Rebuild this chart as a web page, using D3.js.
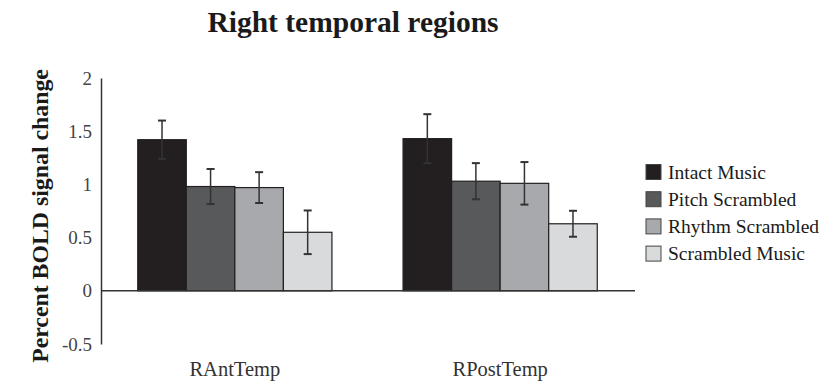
<!DOCTYPE html>
<html><head><meta charset="utf-8">
<script src="https://cdn.jsdelivr.net/npm/d3@7"></script>
<style>body{margin:0;background:#fff}svg{display:block}</style>
</head><body>
<script>
const regions = ["RAntTemp", "RPostTemp"];
const conditions = ["Intact Music", "Pitch Scrambled", "Rhythm Scrambled", "Scrambled Music"];
const intactMusic = [1.42, 1.43];
const pitchScrambled = [0.98, 1.03];
const rhythmScrambled = [0.97, 1.01];
const scrambledMusic = [0.55, 0.63];
const errIntact = [0.18, 0.23];
const errPitch = [0.165, 0.17];
const errRhythm = [0.145, 0.20];
const errScrambled = [0.205, 0.122];
const yTicks = [-0.5, 0, 0.5, 1, 1.5, 2];
const yTickLabels = ["-0.5", "0", "0.5", "1", "1.5", "2"];
const colors = ["#231f20", "#58595b", "#a7a9ac", "#d9dadb"];

const values = [intactMusic, pitchScrambled, rhythmScrambled, scrambledMusic];
const errs = [errIntact, errPitch, errRhythm, errScrambled];

const W = 834, H = 382;
const svg = d3.select("body").append("svg").attr("width", W).attr("height", H);
const serif = "'Liberation Serif','Times New Roman',serif";

const y = d3.scaleLinear().domain([-0.5, 2]).range([344, 78]);
const x0 = d3.scaleBand().domain(regions).range([101, 634]).paddingInner(0.268).paddingOuter(0.1385);
const x1 = d3.scaleBand().domain(conditions).range([0, x0.bandwidth()]).padding(0);

// title
svg.append("text").attr("x", 353).attr("y", 32).attr("text-anchor", "middle")
  .attr("font-family", serif).attr("font-weight", "bold").attr("font-size", 29.5)
  .attr("fill", "#1a1a1a").text("Right temporal regions");

// y label
svg.append("text").attr("transform", "translate(48,216) rotate(-90)")
  .attr("text-anchor", "middle").attr("font-family", serif).attr("font-weight", "bold")
  .attr("font-size", 23.8).attr("fill", "#1a1a1a").text("Percent BOLD signal change");

// y axis
const yAxis = d3.axisLeft(y).tickValues(yTicks).tickFormat((d, i) => yTickLabels[i]).tickSize(0).tickPadding(9);
const gy = svg.append("g").attr("transform", "translate(101,0)").call(yAxis);
gy.select(".domain").attr("stroke", "#333").attr("stroke-width", 1.5);
gy.selectAll("text").attr("font-family", serif).attr("font-size", 19).attr("fill", "#444");

// bars
const g = svg.append("g");
regions.forEach((r, ri) => {
  conditions.forEach((c, ci) => {
    const v = values[ci][ri];
    g.append("rect")
      .attr("x", x0(r) + x1(c)).attr("width", x1.bandwidth())
      .attr("y", y(v)).attr("height", y(0) - y(v))
      .attr("fill", colors[ci]).attr("stroke", "#231f20").attr("stroke-width", 1.2);
  });
});

// zero line
svg.append("line").attr("x1", 101).attr("x2", 635).attr("y1", y(0)).attr("y2", y(0))
  .attr("stroke", "#333").attr("stroke-width", 1.5);

// error bars
regions.forEach((r, ri) => {
  conditions.forEach((c, ci) => {
    const v = values[ci][ri], e = errs[ci][ri];
    const cx = x0(r) + x1(c) + x1.bandwidth() / 2;
    const eb = svg.append("g").attr("stroke", "#333").attr("stroke-width", 1.5);
    eb.append("line").attr("x1", cx).attr("x2", cx).attr("y1", y(v + e)).attr("y2", y(v - e));
    eb.append("line").attr("x1", cx - 4).attr("x2", cx + 4).attr("y1", y(v + e)).attr("y2", y(v + e)).attr("stroke-width", 2);
    eb.append("line").attr("x1", cx - 4).attr("x2", cx + 4).attr("y1", y(v - e)).attr("y2", y(v - e)).attr("stroke-width", 2);
  });
});

// x category labels
regions.forEach(r => {
  svg.append("text").attr("x", x0(r) + x0.bandwidth() / 2).attr("y", 376)
    .attr("text-anchor", "middle").attr("font-family", serif).attr("font-size", 20.5)
    .attr("fill", "#333").text(r);
});

// legend
conditions.forEach((c, i) => {
  const ly = 172 + i * 27.2;
  svg.append("rect").attr("x", 646).attr("y", ly - 7.5).attr("width", 15).attr("height", 15)
    .attr("fill", colors[i]).attr("stroke", "#444").attr("stroke-width", 1);
  svg.append("text").attr("x", 668).attr("y", ly + 6.5).attr("font-family", serif)
    .attr("font-size", 19.5).attr("fill", "#1a1a1a").text(c);
});
</script>
</body></html>
